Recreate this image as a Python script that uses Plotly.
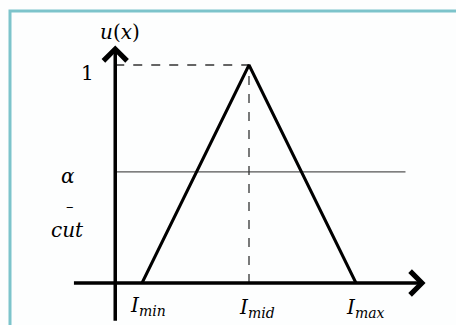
import plotly.graph_objects as go

# membership function (triangular)
x_pts = [1, 5, 9]          # I_min, I_mid, I_max
u_pts = [0, 1, 0]
alpha = 0.51               # alpha-cut level
alpha_end = 10.85
x_axis_span = [-1.6, 11.6]
y_axis_span = [-0.18, 1.09]
x_labels = ['<i>I</i><sub><i>min</i></sub>', '<i>I</i><sub><i>mid</i></sub>', '<i>I</i><sub><i>max</i></sub>']

FONT = 'DejaVu Serif'

fig = go.Figure()

# alpha-cut line
fig.add_trace(go.Scatter(x=[0, alpha_end], y=[alpha, alpha], mode='lines',
                         line=dict(color='#555555', width=1.3), hoverinfo='skip'))
# dashed guides to the peak
fig.add_trace(go.Scatter(x=[0, x_pts[1]], y=[u_pts[1], u_pts[1]], mode='lines',
                         line=dict(color='#333333', width=1.3, dash='dash'), hoverinfo='skip'))
fig.add_trace(go.Scatter(x=[x_pts[1], x_pts[1]], y=[0, u_pts[1]], mode='lines',
                         line=dict(color='#333333', width=1.3, dash='dash'), hoverinfo='skip'))
# triangle
fig.add_trace(go.Scatter(x=x_pts, y=u_pts, mode='lines',
                         line=dict(color='black', width=3), hoverinfo='skip'))

# axes with arrow heads
fig.add_annotation(x=x_axis_span[1], y=0, ax=x_axis_span[0], ay=0,
                   xref='x', yref='y', axref='x', ayref='y', text='',
                   showarrow=True, arrowhead=4, arrowwidth=3.5, arrowsize=1.3, arrowcolor='black')
fig.add_annotation(x=0, y=y_axis_span[1], ax=0, ay=y_axis_span[0],
                   xref='x', yref='y', axref='x', ayref='y', text='',
                   showarrow=True, arrowhead=4, arrowwidth=3.5, arrowsize=1.3, arrowcolor='black')

labels = [
    (0.18, 1.151, '<i>u</i>(<i>x</i>)', 20),
    (-1.02, 0.963, '1', 20),
    (-1.77, 0.49, '<i>α</i>', 20),
    (-1.69, 0.352, '–', 15),
    (-1.80, 0.245, '<i>cut</i>', 20),
    (x_pts[0] + 0.22, -0.105, x_labels[0], 20),
    (x_pts[1] + 0.30, -0.115, x_labels[1], 20),
    (x_pts[2] + 0.34, -0.115, x_labels[2], 20),
]
for lx, ly, txt, sz in labels:
    fig.add_annotation(x=lx, y=ly, text=txt, showarrow=False, xref='x', yref='y',
                       font=dict(family=FONT, size=sz, color='black'))

# teal frame
fig.add_shape(type='rect', xref='paper', yref='paper',
              x0=10 / 456, x1=1.05, y0=-0.05, y1=1 - 11 / 325,
              line=dict(color='#7DC4CB', width=3))

fig.update_xaxes(range=[-4.308, 12.738], visible=False, fixedrange=True)
fig.update_yaxes(range=[-0.1927, 1.2982], visible=False, fixedrange=True)
fig.update_layout(width=456, height=325, margin=dict(l=0, r=0, t=0, b=0),
                  showlegend=False, plot_bgcolor='#FDFEFE', paper_bgcolor='#FDFEFE')

fig.write_html("out.html", config={'displayModeBar': False},
               post_script="document.body.style.margin='0px';document.body.style.overflow='hidden';")
